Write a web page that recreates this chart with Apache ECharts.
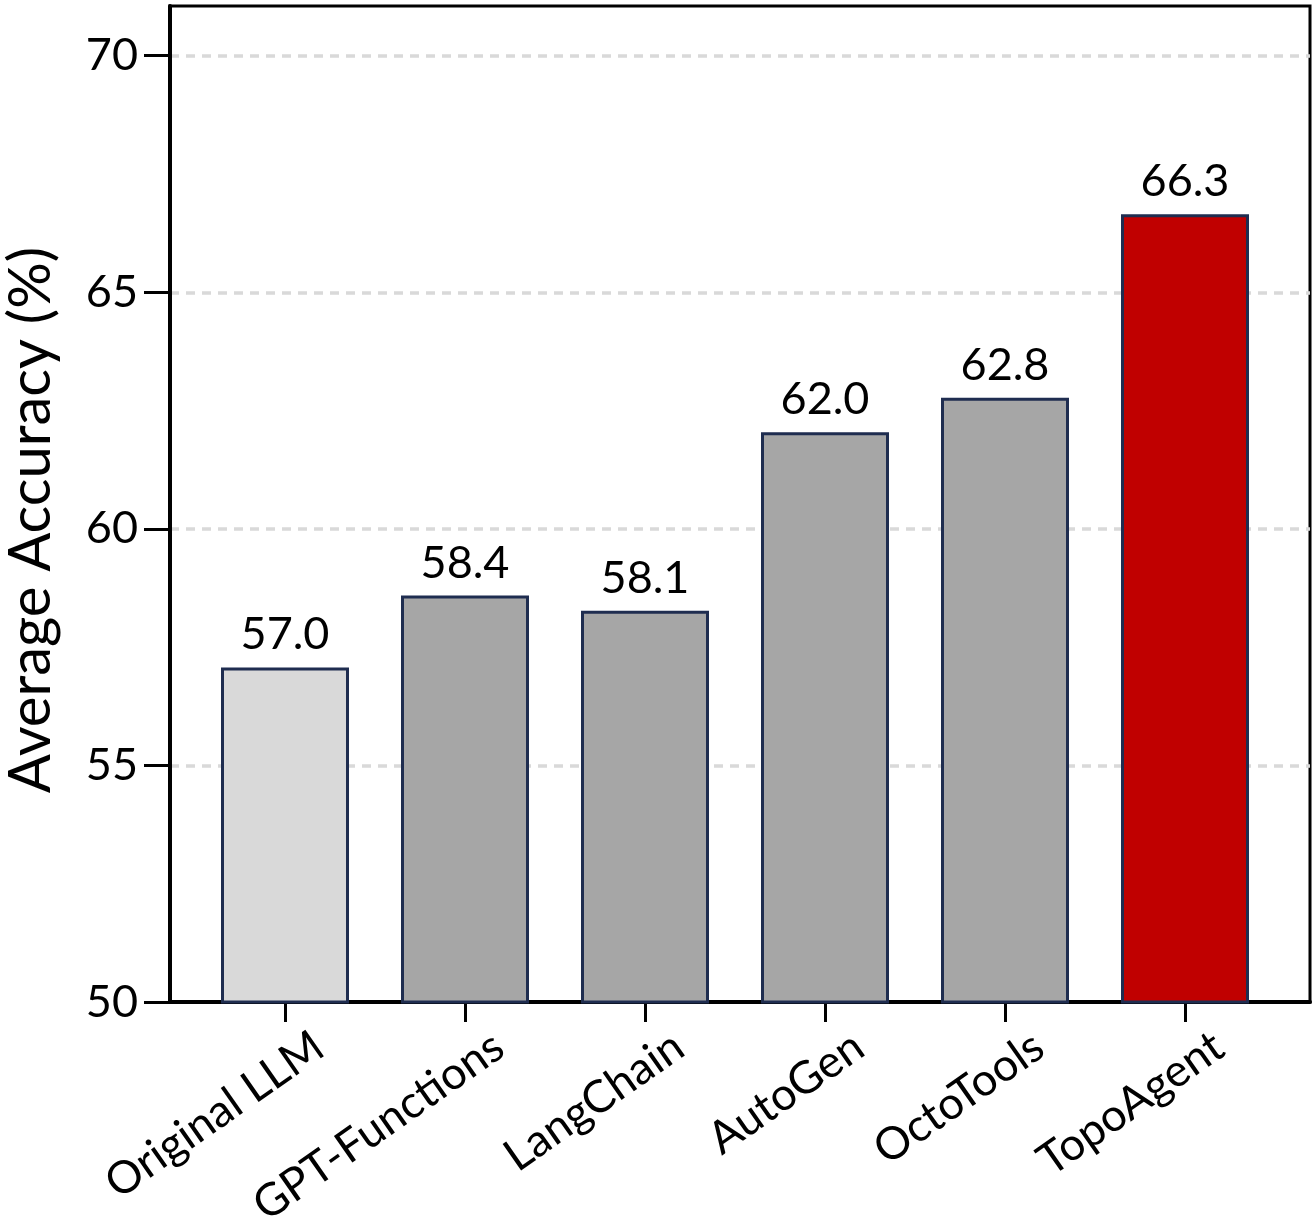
<!DOCTYPE html>
<html>
<head>
<meta charset="utf-8">
<script src="https://cdn.jsdelivr.net/npm/echarts@6/dist/echarts.min.js"></script>
<style>
  html, body { margin: 0; padding: 0; background: #fff; }
  #chart { width: 1316px; height: 1217px; }
</style>
</head>
<body>
<div id="chart"></div>
<script>
// categories and values
const methods = ['Original LLM', 'GPT-Functions', 'LangChain', 'AutoGen', 'OctoTools', 'TopoAgent'];
// bar heights as drawn
const accuracy = [57.07, 58.59, 58.27, 62.04, 62.77, 66.65];
// printed value labels
const valueLabels = ['57.0', '58.4', '58.1', '62.0', '62.8', '66.3'];
const barColors = ['#d9d9d9', '#a6a6a6', '#a6a6a6', '#a6a6a6', '#a6a6a6', '#c00000'];
const yTicks = [50, 55, 60, 65, 70];
const yTitle = 'Average Accuracy (%)';

const FONT = 'Lato';
const Y_MIN = 50, Y_MAX = 71.05;

const chart = echarts.init(document.getElementById('chart'));

const option = {
  backgroundColor: '#fff',
  animation: false,
  textStyle: { fontFamily: FONT },
  grid: [
    // frame + y axis
    { left: 170, right: 6, top: 6, bottom: 215, outerBoundsMode: 'none', containLabel: false,
      show: true, borderColor: '#000', borderWidth: 3, backgroundColor: 'transparent' },
    // bars
    { left: 195, right: 41, top: 6, bottom: 215, outerBoundsMode: 'none', containLabel: false },
    // category labels, shifted right like the original
    { left: 229, right: 7, top: 6, bottom: 215, outerBoundsMode: 'none', containLabel: false }
  ],
  // y axis title
  graphic: [{
    type: 'text', x: 31, y: 520, rotation: Math.PI / 2,
    style: { text: yTitle, font: '58px Lato', fill: '#000', align: 'center', verticalAlign: 'middle' }
  }],
  xAxis: [
    {
      gridIndex: 0, type: 'value', min: 0, max: 1,
      axisLine: { show: true, onZero: false, lineStyle: { color: '#000', width: 4 } },
      axisTick: { show: false }, axisLabel: { show: false }, splitLine: { show: false }
    },
    {
      gridIndex: 1, type: 'category', data: methods,
      axisLine: { show: false },
      axisTick: { show: true, alignWithLabel: true, length: 20, lineStyle: { color: '#000', width: 3 } },
      axisLabel: { show: false }
    },
    {
      gridIndex: 2, type: 'category', data: methods,
      axisLine: { show: false }, axisTick: { show: false },
      axisLabel: { interval: 0, rotate: 35, margin: 40, fontSize: 45, color: '#000', fontFamily: FONT }
    }
  ],
  yAxis: [
    {
      gridIndex: 0, type: 'value', min: Y_MIN, max: Y_MAX, interval: 5,
      axisLine: { show: true, lineStyle: { color: '#000', width: 4 } },
      axisTick: { show: true, length: 26, customValues: yTicks, lineStyle: { color: '#000', width: 3 } },
      axisLabel: { margin: 32, fontSize: 45, color: '#000', fontFamily: FONT, customValues: yTicks },
      splitLine: { show: true, lineStyle: { color: '#d9d9d9', width: 3.5, type: [9, 7] } }
    },
    { gridIndex: 1, type: 'value', min: Y_MIN, max: Y_MAX, show: false },
    { gridIndex: 2, type: 'value', min: Y_MIN, max: Y_MAX, show: false }
  ],
  series: [
    {
      type: 'bar',
      xAxisIndex: 1, yAxisIndex: 1,
      barWidth: 128,
      data: accuracy.map((v, i) => ({
        value: v,
        itemStyle: { color: barColors[i] }
      })),
      itemStyle: { borderColor: '#1f2d50', borderWidth: 3 },
      label: {
        show: true, position: 'top', distance: 10,
        fontSize: 45, color: '#000', fontFamily: FONT,
        formatter: p => valueLabels[p.dataIndex]
      }
    }
  ]
};

chart.setOption(option);
</script>
</body>
</html>
